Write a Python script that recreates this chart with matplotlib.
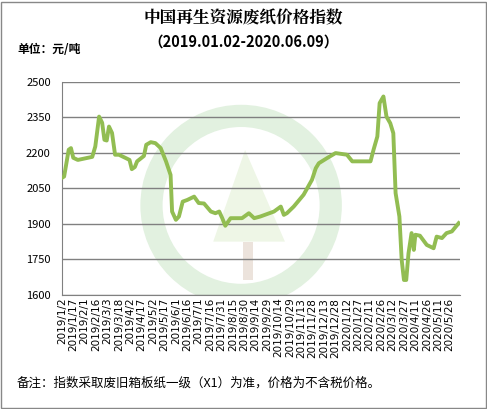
import numpy as np
import pandas as pd
import matplotlib
matplotlib.use('Agg')
from matplotlib import pyplot as plt
from matplotlib.patches import Ellipse, Rectangle, Polygon

plt.rcParams['font.family'] = ['Noto Sans CJK SC', 'DejaVu Sans']

# day offsets from 2019-01-02 and index values
days = [0, 3, 9, 12, 15, 21, 40, 44, 49, 53, 56, 59, 62, 66, 70, 75, 84, 89, 92, 96, 99,
        108, 111, 117, 123, 130, 137, 143, 145, 150, 154, 159, 165, 174, 180, 187, 196,
        202, 207, 211, 215, 222, 237, 246, 253, 261, 279, 288, 292, 296, 305, 318, 329,
        334, 338, 349, 360, 375, 382, 406, 410, 415, 418, 423, 427, 432, 436, 439, 444,
        447, 450, 453, 456, 460, 463, 465, 471, 480, 489, 493, 500, 506, 513, 522]
values = [2094, 2100, 2213, 2220, 2179, 2170, 2183, 2227, 2353, 2327, 2255, 2252, 2311,
          2284, 2192, 2192, 2178, 2170, 2131, 2140, 2164, 2187, 2234, 2245, 2241, 2220,
          2164, 2107, 1952, 1917, 1931, 1994, 2001, 2015, 1988, 1986, 1952, 1945, 1952,
          1924, 1892, 1924, 1924, 1945, 1924, 1931, 1952, 1973, 1938, 1945, 1973, 2023,
          2086, 2135, 2156, 2178, 2199, 2192, 2164, 2164, 2213, 2269, 2410, 2438, 2353,
          2325, 2283, 2030, 1931, 1748, 1663, 1663, 1776, 1861, 1790, 1854, 1850, 1811,
          1797, 1846, 1840, 1861, 1868, 1903]
yticks = [1600, 1750, 1900, 2050, 2200, 2350, 2500]

start = pd.Timestamp('2019-01-02')
dates = start + pd.to_timedelta(days, unit='D')
tick_dates = pd.date_range(start, pd.Timestamp('2020-05-26'), freq='15D')

fig = plt.figure(figsize=(4.87, 4.09), dpi=100)
fig.patches.append(Rectangle((0.002, 0.002), 0.996, 0.994, transform=fig.transFigure,
                             fill=False, edgecolor='#888888', linewidth=1))
ax = fig.add_axes([0.127, 0.279, 0.818, 0.521])

# faint watermark (roundel with a tree)
wm = dict(transform=ax.transAxes, zorder=0)
ax.add_patch(Ellipse((0.45, 0.42), 0.45, 0.84, facecolor='none', edgecolor='#e2f1e0',
                     linewidth=16, **wm))
ax.add_patch(Polygon([[0.46, 0.68], [0.38, 0.25], [0.56, 0.25]], closed=True,
                     facecolor='#eef6e6', edgecolor='none', **wm))
ax.add_patch(Rectangle((0.455, 0.07), 0.025, 0.18, facecolor='#ece3dc', edgecolor='none', **wm))

ax.plot(dates, values, color='#92bd52', linewidth=2.8, zorder=3, solid_joinstyle='round')

ax.set_ylim(1600, 2500)
ax.set_yticks(yticks)
ax.grid(axis='y', color='#808080', linewidth=1)
ax.set_axisbelow(True)
ax.set_xlim(start, pd.Timestamp('2020-06-09'))
ax.set_xticks(tick_dates)
ax.set_xticklabels([f'{d.year}/{d.month}/{d.day}' for d in tick_dates], rotation=90,
                   fontsize=7.5, family='DejaVu Sans')
ax.tick_params(axis='y', labelsize=8, length=0, pad=8)
ax.tick_params(axis='x', length=0, pad=2)
for s in ['top', 'right']:
    ax.spines[s].set_visible(False)
for s in ['left', 'bottom']:
    ax.spines[s].set_color('#808080')

fig.text(0.5, 0.945, '中国再生资源废纸价格指数', ha='center', fontsize=12,
         fontweight='bold', family=['Noto Serif CJK SC', 'Noto Sans CJK SC'])
fig.text(0.5, 0.885, '（2019.01.02-2020.06.09）', ha='center', fontsize=10.5, fontweight='bold')
fig.text(0.035, 0.87, '单位：元/吨', fontsize=8.5, fontweight='bold')
fig.text(0.035, 0.055, '备注：指数采取废旧箱板纸一级（X1）为准，价格为不含税价格。', fontsize=9)

fig.savefig('out.png', dpi=100)
